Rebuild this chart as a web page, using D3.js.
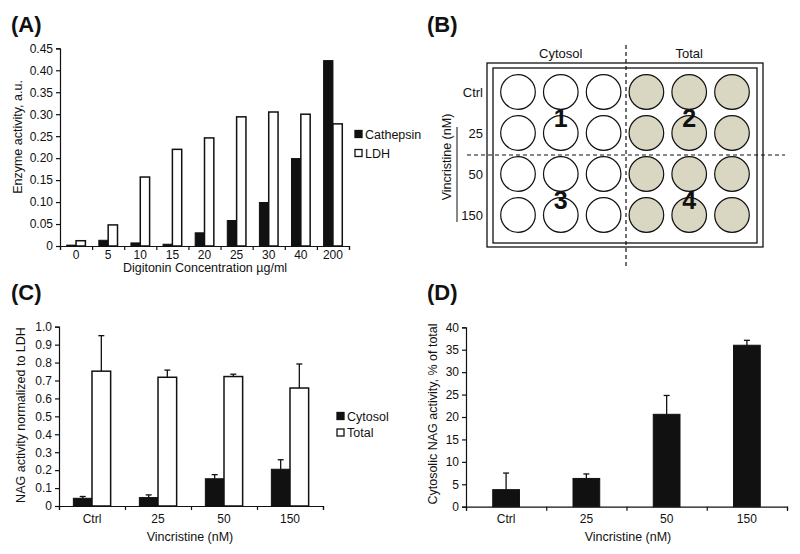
<!DOCTYPE html>
<meta charset="utf-8">
<style>
body { margin: 0; background: #fff; }
text { font-family: 'Liberation Sans', Arial, sans-serif; fill: #111; }
.tick text { font-size: 12px; }
.title { font-size: 12.5px; }
.panel { font-size: 22px; font-weight: bold; }
.domain, .tick line { stroke: #111; stroke-width: 1.2; }
</style>
<svg id="fig" width="800" height="554"></svg>
<script src="https://d3js.org/d3.v7.min.js"></script>
<script>

// ---- data ----
var digitonin = ["0", "5", "10", "15", "20", "25", "30", "40", "200"];
var cathepsin = [0.002, 0.013, 0.007, 0.004, 0.030, 0.058, 0.099, 0.199, 0.422];
var ldh       = [0.012, 0.048, 0.157, 0.220, 0.246, 0.294, 0.305, 0.300, 0.278];
var ticksA    = [0, 0.05, 0.10, 0.15, 0.20, 0.25, 0.30, 0.35, 0.40, 0.45];

var vincristine   = ["Ctrl", "25", "50", "150"];
var cytosolNag    = [0.043, 0.047, 0.152, 0.205];
var cytosolNagErr = [0.010, 0.015, 0.023, 0.053];
var totalNag      = [0.752, 0.718, 0.722, 0.658];
var totalNagErr   = [0.198, 0.040, 0.013, 0.134];
var ticksC        = [0, 0.1, 0.2, 0.3, 0.4, 0.5, 0.6, 0.7, 0.8, 0.9, 1.0];

var cytosolicPct    = [3.8, 6.3, 20.6, 36.0];
var cytosolicPctErr = [3.7, 1.0, 4.2, 1.1];
var ticksD          = [0, 5, 10, 15, 20, 25, 30, 35, 40];

var plateCols = ["Cytosol", "Total"];
var plateRows = ["Ctrl", "25", "50", "150"];

var svg = d3.select("#fig");

var translate = function(x, y) { return "translate(" + x + "," + y + ")"; };

function panelLabel(txt, x, y) {
    svg.append("text").attr("class", "panel").attr("x", x).attr("y", y).text(txt);
}

// y axis with outside ticks
function yAxis(scale, x, ticks, fmt) {
    svg.append("g").attr("transform", translate(x, 0))
        .call(d3.axisLeft(scale).tickValues(ticks).tickSize(4).tickPadding(3).tickFormat(fmt));
}

// x axis: boundary ticks + category labels
function xAxis(band, y, x1, pad) {
    var n = band.domain().length;
    var edge = d3.scaleLinear().domain([0, n]).range([band.range()[0], x1]);
    svg.append("g").attr("transform", translate(0, y))
        .call(d3.axisBottom(edge).ticks(n).tickSize(4).tickFormat(""));
    var lab = svg.append("g").attr("transform", translate(0, y))
        .call(d3.axisBottom(band).tickSize(0).tickPadding(pad));
    lab.select(".domain").remove();
}

function legend(items, x, y, dy) {
    items.forEach(function(it, i) {
        svg.append("rect").attr("x", x).attr("y", y + i * dy - 3.5).attr("width", 7).attr("height", 7)
            .attr("fill", it.fill).attr("stroke", "#111").attr("stroke-width", 1.3);
        svg.append("text").attr("x", x + 10).attr("y", y + i * dy + 4.5).style("font-size", "12.5px").text(it.name);
    });
}

function errBars(xs, ys, tops) {
    xs.forEach(function(x, i) {
        svg.append("line").attr("x1", x).attr("x2", x).attr("y1", ys[i]).attr("y2", tops[i])
            .attr("stroke", "#111").attr("stroke-width", 1.3);
        svg.append("line").attr("x1", x - 3).attr("x2", x + 3).attr("y1", tops[i]).attr("y2", tops[i])
            .attr("stroke", "#111").attr("stroke-width", 1.3);
    });
}

// ---- (A) ----
panelLabel("(A)", 11, 32);
var xA = d3.scaleBand().domain(digitonin).range([60, 349]);
var xAin = d3.scaleBand().domain(["Cathepsin", "LDH"]).range([0, xA.bandwidth()]).paddingOuter(0.72);
var yA = d3.scaleLinear().domain([0, 0.45]).range([246, 48.3]);

svg.append("g").selectAll("rect").data(digitonin).join("rect")
    .attr("x", function(d) { return xA(d) + xAin("Cathepsin"); })
    .attr("y", function(d, i) { return yA(cathepsin[i]); })
    .attr("width", xAin.bandwidth())
    .attr("height", function(d, i) { return yA(0) - yA(cathepsin[i]); })
    .attr("fill", "#111").attr("stroke", "#111").attr("stroke-width", 1);
svg.append("g").selectAll("rect").data(digitonin).join("rect")
    .attr("x", function(d) { return xA(d) + xAin("LDH"); })
    .attr("y", function(d, i) { return yA(ldh[i]); })
    .attr("width", xAin.bandwidth())
    .attr("height", function(d, i) { return yA(0) - yA(ldh[i]); })
    .attr("fill", "#fff").attr("stroke", "#111").attr("stroke-width", 1.5);

yAxis(yA, 60, ticksA, function(d) { return d === 0 ? "0" : d3.format(".2f")(d); });
xAxis(xA, 246, 349, 4);
svg.append("text").attr("class", "title").attr("text-anchor", "middle")
    .attr("transform", "translate(22,137) rotate(-90)").text("Enzyme activity, a.u.");
svg.append("text").attr("class", "title").attr("text-anchor", "middle")
    .attr("x", 205).attr("y", 272).text("Digitonin Concentration \u00b5g/ml");
legend([{name: "Cathepsin", fill: "#111"}, {name: "LDH", fill: "#fff"}], 355, 134, 19);

// ---- (B) plate schematic ----
panelLabel("(B)", 427, 32);
var colX = d3.scalePoint().domain(d3.range(6)).range([518, 732]);
var rowY = d3.scalePoint().domain(plateRows).range([92, 215]);

svg.append("rect").attr("x", 487).attr("y", 63).attr("width", 276).attr("height", 184)
    .attr("fill", "none").attr("stroke", "#111").attr("stroke-width", 1.3);
svg.append("rect").attr("x", 493).attr("y", 68).attr("width", 264).attr("height", 175)
    .attr("fill", "none").attr("stroke", "#111").attr("stroke-width", 1.3);

var wells = [];
plateRows.forEach(function(r) { d3.range(6).forEach(function(c) { wells.push({r: r, c: c}); }); });
svg.append("g").selectAll("circle").data(wells).join("circle")
    .attr("cx", function(d) { return colX(d.c); })
    .attr("cy", function(d) { return rowY(d.r); })
    .attr("r", 17.3)
    .attr("fill", function(d) { return d.c < 3 ? "#fff" : "#d9d6c2"; })
    .attr("stroke", "#111").attr("stroke-width", 1.2);

svg.append("line").attr("x1", 626).attr("x2", 626).attr("y1", 45).attr("y2", 267)
    .attr("stroke", "#111").attr("stroke-width", 1.2).attr("stroke-dasharray", "4,3");
svg.append("line").attr("x1", 467).attr("x2", 785).attr("y1", 155).attr("y2", 155)
    .attr("stroke", "#111").attr("stroke-width", 1.2).attr("stroke-dasharray", "4,3");

plateCols.forEach(function(name, i) {
    svg.append("text").attr("text-anchor", "middle").style("font-size", "13px")
        .attr("x", colX(i * 3 + 1)).attr("y", 58).text(name);
});
plateRows.forEach(function(r) {
    svg.append("text").attr("text-anchor", "end").style("font-size", "13px")
        .attr("x", 483).attr("y", rowY(r) + 4.5).text(r);
});
svg.append("text").attr("text-anchor", "middle").style("font-size", "12.5px")
    .attr("transform", "translate(451,157) rotate(-90)").text("Vincristine (nM)");
svg.append("line").attr("x1", 457).attr("x2", 457).attr("y1", 127).attr("y2", 222)
    .attr("stroke", "#111").attr("stroke-width", 1);
[["1", 1, 0], ["2", 4, 0], ["3", 1, 2], ["4", 4, 2]].forEach(function(d) {
    svg.append("text").attr("text-anchor", "middle").style("font-size", "25px").style("font-weight", "bold")
        .attr("x", colX(d[1])).attr("y", (rowY(plateRows[d[2]]) + rowY(plateRows[d[2] + 1])) / 2 + 14).text(d[0]);
});

// ---- (C) ----
panelLabel("(C)", 11, 300);
var xC = d3.scaleBand().domain(vincristine).range([59, 323]);
var xCin = d3.scaleBand().domain(["Cytosol", "Total"]).range([0, xC.bandwidth()]).paddingOuter(0.77);
var yC = d3.scaleLinear().domain([0, 1]).range([506, 326.7]);

svg.append("g").selectAll("rect").data(vincristine).join("rect")
    .attr("x", function(d) { return xC(d) + xCin("Cytosol"); })
    .attr("y", function(d, i) { return yC(cytosolNag[i]); })
    .attr("width", xCin.bandwidth())
    .attr("height", function(d, i) { return yC(0) - yC(cytosolNag[i]); })
    .attr("fill", "#111").attr("stroke", "#111").attr("stroke-width", 1);
svg.append("g").selectAll("rect").data(vincristine).join("rect")
    .attr("x", function(d) { return xC(d) + xCin("Total"); })
    .attr("y", function(d, i) { return yC(totalNag[i]); })
    .attr("width", xCin.bandwidth())
    .attr("height", function(d, i) { return yC(0) - yC(totalNag[i]); })
    .attr("fill", "#fff").attr("stroke", "#111").attr("stroke-width", 1.5);
errBars(vincristine.map(function(d) { return xC(d) + xCin("Cytosol") + xCin.bandwidth() / 2; }),
    cytosolNag.map(function(v) { return yC(v); }),
    cytosolNag.map(function(v, i) { return yC(v + cytosolNagErr[i]); }));
errBars(vincristine.map(function(d) { return xC(d) + xCin("Total") + xCin.bandwidth() / 2; }),
    totalNag.map(function(v) { return yC(v); }),
    totalNag.map(function(v, i) { return yC(v + totalNagErr[i]); }));

yAxis(yC, 59, ticksC, function(d) { return d === 0 ? "0" : d3.format(".1f")(d); });
xAxis(xC, 506, 323, 8);
svg.append("text").attr("class", "title").attr("text-anchor", "middle")
    .attr("transform", "translate(25,415) rotate(-90)").text("NAG activity normalized to LDH");
svg.append("text").attr("class", "title").attr("text-anchor", "middle")
    .attr("x", 190).attr("y", 541).text("Vincristine (nM)");
legend([{name: "Cytosol", fill: "#111"}, {name: "Total", fill: "#fff"}], 337, 416, 16.5);

// ---- (D) ----
panelLabel("(D)", 427, 300);
var xD = d3.scaleBand().domain(vincristine).range([466, 787]).paddingInner(0.667).paddingOuter(0.333);
var yD = d3.scaleLinear().domain([0, 40]).range([506.7, 327.3]);

svg.append("g").selectAll("rect").data(vincristine).join("rect")
    .attr("x", function(d) { return xD(d); })
    .attr("y", function(d, i) { return yD(cytosolicPct[i]); })
    .attr("width", xD.bandwidth())
    .attr("height", function(d, i) { return yD(0) - yD(cytosolicPct[i]); })
    .attr("fill", "#111").attr("stroke", "#111").attr("stroke-width", 1);
errBars(vincristine.map(function(d) { return xD(d) + xD.bandwidth() / 2; }),
    cytosolicPct.map(function(v) { return yD(v); }),
    cytosolicPct.map(function(v, i) { return yD(v + cytosolicPctErr[i]); }));

yAxis(yD, 466, ticksD, d3.format("d"));
var xDedge = d3.scaleBand().domain(vincristine).range([466, 787]);
xAxis(xDedge, 506.7, 787, 8);
svg.append("text").attr("class", "title").attr("text-anchor", "middle")
    .attr("transform", "translate(437,414) rotate(-90)").text("Cytosolic NAG activity, % of total");
svg.append("text").attr("class", "title").attr("text-anchor", "middle")
    .attr("x", 628).attr("y", 541).text("Vincristine (nM)");

</script>
